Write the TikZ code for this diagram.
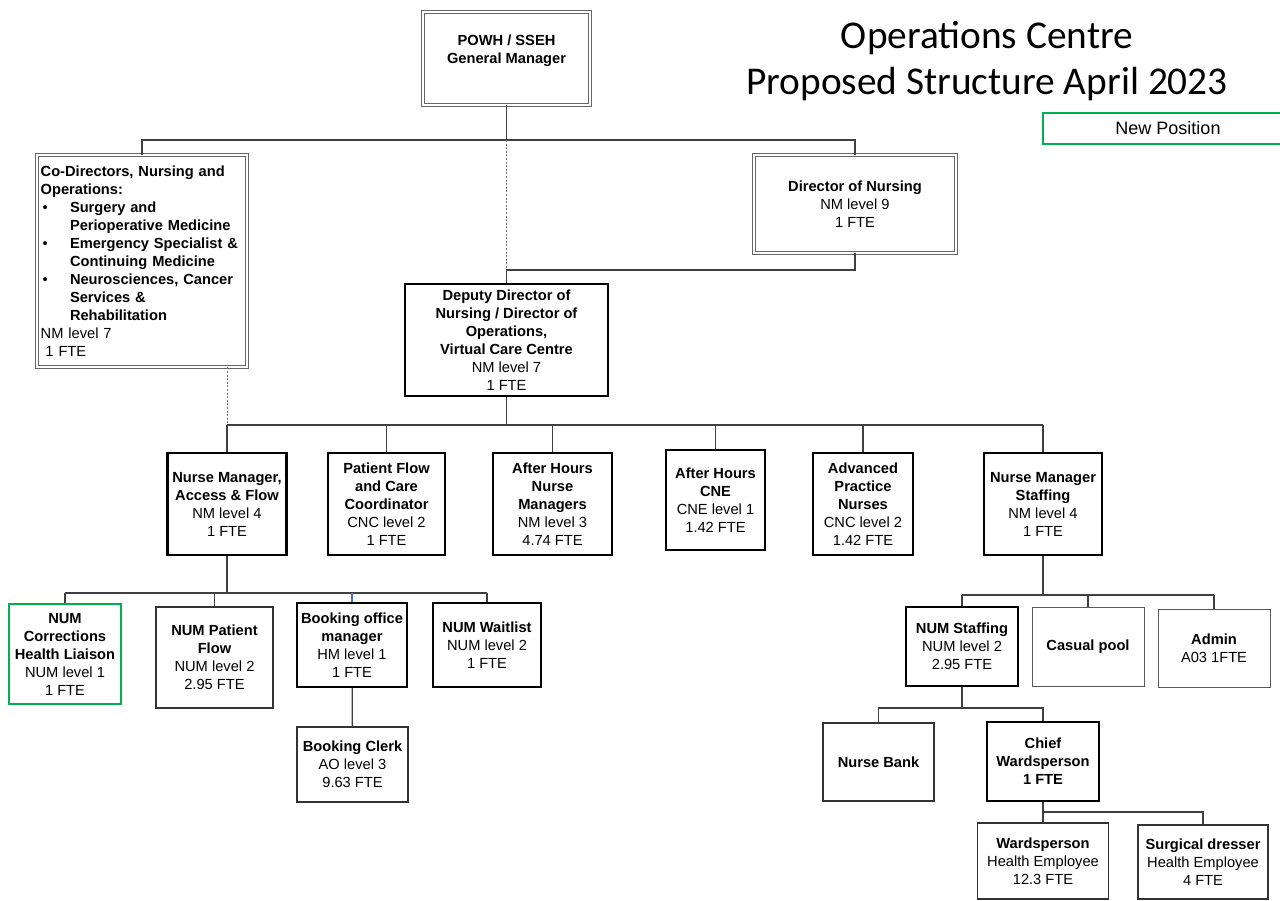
\documentclass[tikz,border=0pt]{standalone}
\usepackage{fontspec}
\setmainfont{Liberation Sans}
\newfontfamily\titlefont{Carlito}
\usepackage{tikz}
\usepackage{xcolor}
\usetikzlibrary{calc}
\definecolor{newgreen}{RGB}{0,176,80}
\definecolor{linkgray}{RGB}{64,64,64}
\definecolor{bluelink}{RGB}{68,114,196}
\newcommand\orgfont{\fontsize{11pt}{13.5pt}\selectfont}
\newcommand\orgbullet{\makebox[22pt][l]{\hspace{1.5pt}\textbullet}}
\newcommand\orgindent{\hspace*{22pt}}
\tikzset{
  unit/.style={ % ordinary position box
    draw=black!80, line width=0.8pt, fill=white,
    align=center, inner sep=2pt, text=black, font=\orgfont
  },
  keyunit/.style={ % bold-bordered position box
    unit, draw=black, line width=1.6pt
  },
  dblunit/.style={ % double-bordered executive box
    unit, draw=black!60, line width=0.6pt,
    double=white, double distance=1.5pt
  },
  newunit/.style={ % new position, green border
    unit, draw=newgreen, line width=2.2pt
  },
  boxsize/.style 2 args={minimum width=#1*0.75pt, minimum height=#2*0.75pt},
  link/.style={draw=linkgray, line width=1pt},
  dotlink/.style={draw=black!55, line width=0.6pt, dash pattern=on 1.5pt off 1.2pt}
}

\begin{document}
\begin{tikzpicture}[x=0.75pt, y=-0.75pt]
  \clip (0,0) rectangle (1280,900);

  % bus lines
  \coordinate (bus1) at (0,140);
  \coordinate (bus2) at (0,270);
  \coordinate (bus3) at (0,425);
  \coordinate (bus4) at (0,593);
  \coordinate (bus5) at (0,595);
  \coordinate (bus6) at (0,708);
  \coordinate (bus7) at (0,812);

  % title and legend
  \node[font=\titlefont\fontsize{29.5pt}{34.5pt}\selectfont, align=center] (title) at (987,61)
    {Operations Centre\\Proposed Structure April 2023};
  \node[newunit, font=\fontsize{13.5pt}{15pt}\selectfont, boxsize={250}{31}] (legend) at (1168,128.5) {New Position};

  % top of the structure
  \node[dblunit, boxsize={167}{93}] (gm) at (506.5,58.5)
    {\textbf{POWH / SSEH}\\\textbf{General Manager}\\\mbox{}};
  \node[dblunit, boxsize={210}{212}, text width=152pt, align=left, inner xsep=2.75pt] (codir) at (142,261)
    {\textbf{Co-Directors, Nursing and}\\
     \textbf{Operations:}\\
     \orgbullet\textbf{Surgery and}\\
     \orgindent\textbf{Perioperative Medicine}\\
     \orgbullet\textbf{Emergency Specialist \&}\\
     \orgindent\textbf{Continuing Medicine}\\
     \orgbullet\textbf{Neurosciences, Cancer}\\
     \orgindent\textbf{Services \&}\\
     \orgindent\textbf{Rehabilitation}\\
     NM level 7\\
     \hspace*{3.6pt}1 FTE};
  \node[dblunit, boxsize={202}{98}] (don) at (855,204)
    {\textbf{Director of Nursing}\\NM level 9\\1 FTE};
  \node[keyunit, boxsize={203}{112}] (dep) at (506.5,340)
    {\textbf{Deputy Director of}\\\textbf{Nursing / Director of}\\\textbf{Operations,}\\
     \textbf{Virtual Care Centre}\\NM level 7\\1 FTE};

  % third level
  \node[keyunit, boxsize={119}{102}] (nmaf) at (227,504)
    {\textbf{Nurse Manager,}\\\textbf{Access \& Flow}\\NM level 4\\1 FTE};
  \node[keyunit, boxsize={117}{102}] (pfcc) at (386.5,504)
    {\textbf{Patient Flow}\\\textbf{and Care}\\\textbf{Coordinator}\\CNC level 2\\1 FTE};
  \node[keyunit, boxsize={119}{102}] (ahnm) at (552.5,504)
    {\textbf{After Hours}\\\textbf{Nurse}\\\textbf{Managers}\\NM level 3\\4.74 FTE};
  \node[keyunit, boxsize={99}{100}] (ahcne) at (715.5,500)
    {\textbf{After Hours}\\\textbf{CNE}\\CNE level 1\\1.42 FTE};
  \node[keyunit, boxsize={100}{102}] (apn) at (863,504)
    {\textbf{Advanced}\\\textbf{Practice}\\\textbf{Nurses}\\CNC level 2\\1.42 FTE};
  \node[keyunit, boxsize={118}{102}] (nms) at (1043,504)
    {\textbf{Nurse Manager}\\\textbf{Staffing}\\NM level 4\\1 FTE};

  % access and flow team
  \node[newunit, boxsize={112}{100}] (numc) at (65,654)
    {\textbf{NUM}\\\textbf{Corrections}\\\textbf{Health Liaison}\\NUM level 1\\1 FTE};
  \node[unit, boxsize={117}{101}] (numpf) at (214.5,657.5)
    {\textbf{NUM Patient}\\\textbf{Flow}\\NUM level 2\\2.95 FTE};
  \node[keyunit, boxsize={110}{84}] (bom) at (352,645)
    {\textbf{Booking office}\\\textbf{manager}\\HM level 1\\1 FTE};
  \node[keyunit, boxsize={108}{84}] (numw) at (487,645)
    {\textbf{NUM Waitlist}\\NUM level 2\\1 FTE};
  \node[unit, boxsize={111}{75}] (bc) at (352.5,764.5)
    {\textbf{Booking Clerk}\\AO level 3\\9.63 FTE};

  % staffing team
  \node[keyunit, boxsize={112}{79}] (nums) at (962,646.5)
    {\textbf{NUM Staffing}\\NUM level 2\\2.95 FTE};
  \node[unit, draw=black!65, line width=0.6pt, boxsize={112}{79}] (cp) at (1088,646.5)
    {\textbf{Casual pool}};
  \node[unit, draw=black!65, line width=0.6pt, boxsize={112}{78}] (ad) at (1214,648)
    {\textbf{Admin}\\A03 1FTE};
  \node[unit, boxsize={111}{78}] (nb) at (878.5,762) {\textbf{Nurse Bank}};
  \node[keyunit, boxsize={112}{79}] (cw) at (1043,761.5)
    {\textbf{Chief}\\\textbf{Wardsperson}\\\textbf{1 FTE}};
  \node[unit, boxsize={131}{76}] (wp) at (1043,861)
    {\textbf{Wardsperson}\\Health Employee\\12.3 FTE};
  \node[unit, boxsize={130}{74}] (sd) at (1203,862)
    {\textbf{Surgical dresser}\\Health Employee\\4 FTE};

  % reporting lines
  \draw[link] (gm.south) -- (gm.south |- bus1);
  \draw[link] (codir.north) |- (gm.south |- bus1) -| (don.north);
  \draw[dotlink] (gm.south |- bus1) -- (gm.south |- bus2);
  \draw[link] (don.south) |- (dep.north |- bus2) -- (dep.north);
  \draw[dotlink] (codir.south -| nmaf.north) -- (nmaf.north |- bus3);

  \draw[link] (dep.south) -- (dep.south |- bus3);
  \draw[link] (nmaf.north |- bus3) -- (nms.north |- bus3);
  \foreach \n in {nmaf,pfcc,ahnm,ahcne,apn,nms}
    \draw[link] (\n.north) -- (\n.north |- bus3);

  \draw[link] (nmaf.south) -- (nmaf.south |- bus4);
  \draw[link] (numc.north |- bus4) -- (numw.north |- bus4);
  \foreach \n in {numc,numpf,numw}
    \draw[link] (\n.north) -- (\n.north |- bus4);
  \draw[link, draw=bluelink] (bom.north) -- (bom.north |- bus4);
  \draw[link] (bom) -- (bc);

  \draw[link] (nms.south) -- (nms.south |- bus5);
  \draw[link] (nums.north |- bus5) -- (ad.north |- bus5);
  \foreach \n in {nums,cp,ad}
    \draw[link] (\n.north) -- (\n.north |- bus5);

  \draw[link] (nums.south) -- (nums.south |- bus6);
  \draw[link] (nb.north) |- (nums.south |- bus6) -| (cw.north);

  \draw[link] (cw.south) -- (cw.south |- bus7);
  \draw[link] (wp.north) |- (cw.south |- bus7) -| (sd.north);
\end{tikzpicture}
\end{document}
